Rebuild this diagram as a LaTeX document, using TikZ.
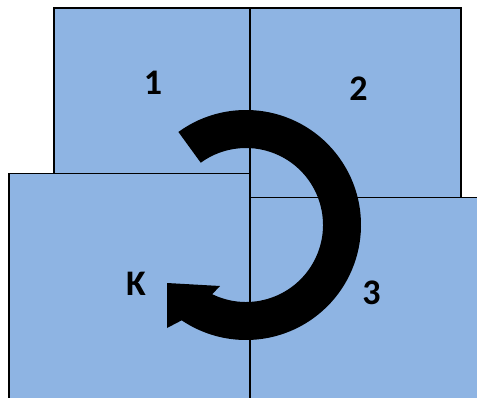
\documentclass[tikz,border=0pt]{standalone}
\usepackage{fontspec}
\setmainfont{Carlito}
\usetikzlibrary{calc}
\definecolor{tileblue}{HTML}{8EB4E3}
\begin{document}
\begin{tikzpicture}[x=1pt,y=1pt,
  tile/.style={draw=black, fill=tileblue, line width=1.6pt},
  tag/.style={font=\bfseries\fontsize{36}{38}\selectfont, text=black, inner sep=0pt}]
\useasboundingbox (0,0) rectangle (477,397);
% the four tiles
\draw[tile] (54,199.5) rectangle (250,389);
\draw[tile] (250,199.5) rectangle (461,389);
\draw[tile] (250,-6) rectangle (484,199.5);
\draw[tile] (9,-6) rectangle (250,223.5);
\node[tag] (one) at (153,314) {1};
\node[tag] (two) at (358.5,308) {2};
\node[tag] (three) at (371.5,104) {3};
\node[tag] (kay) at (136,113) {K};
% turning arrow
\coordinate (ctr) at (246,172);
\coordinate (tip) at (167,114);
\coordinate (wingA) at (220,111);
\coordinate (wingB) at (167,69);
\fill[black] ($(ctr)+(126:115)$) arc[start angle=126,end angle=-124,radius=115]
  -- (wingB) -- (tip) -- (wingA) -- ($(ctr)+(-116:77)$)
  arc[start angle=-116,end angle=126,radius=77] -- cycle;
\end{tikzpicture}
\end{document}
